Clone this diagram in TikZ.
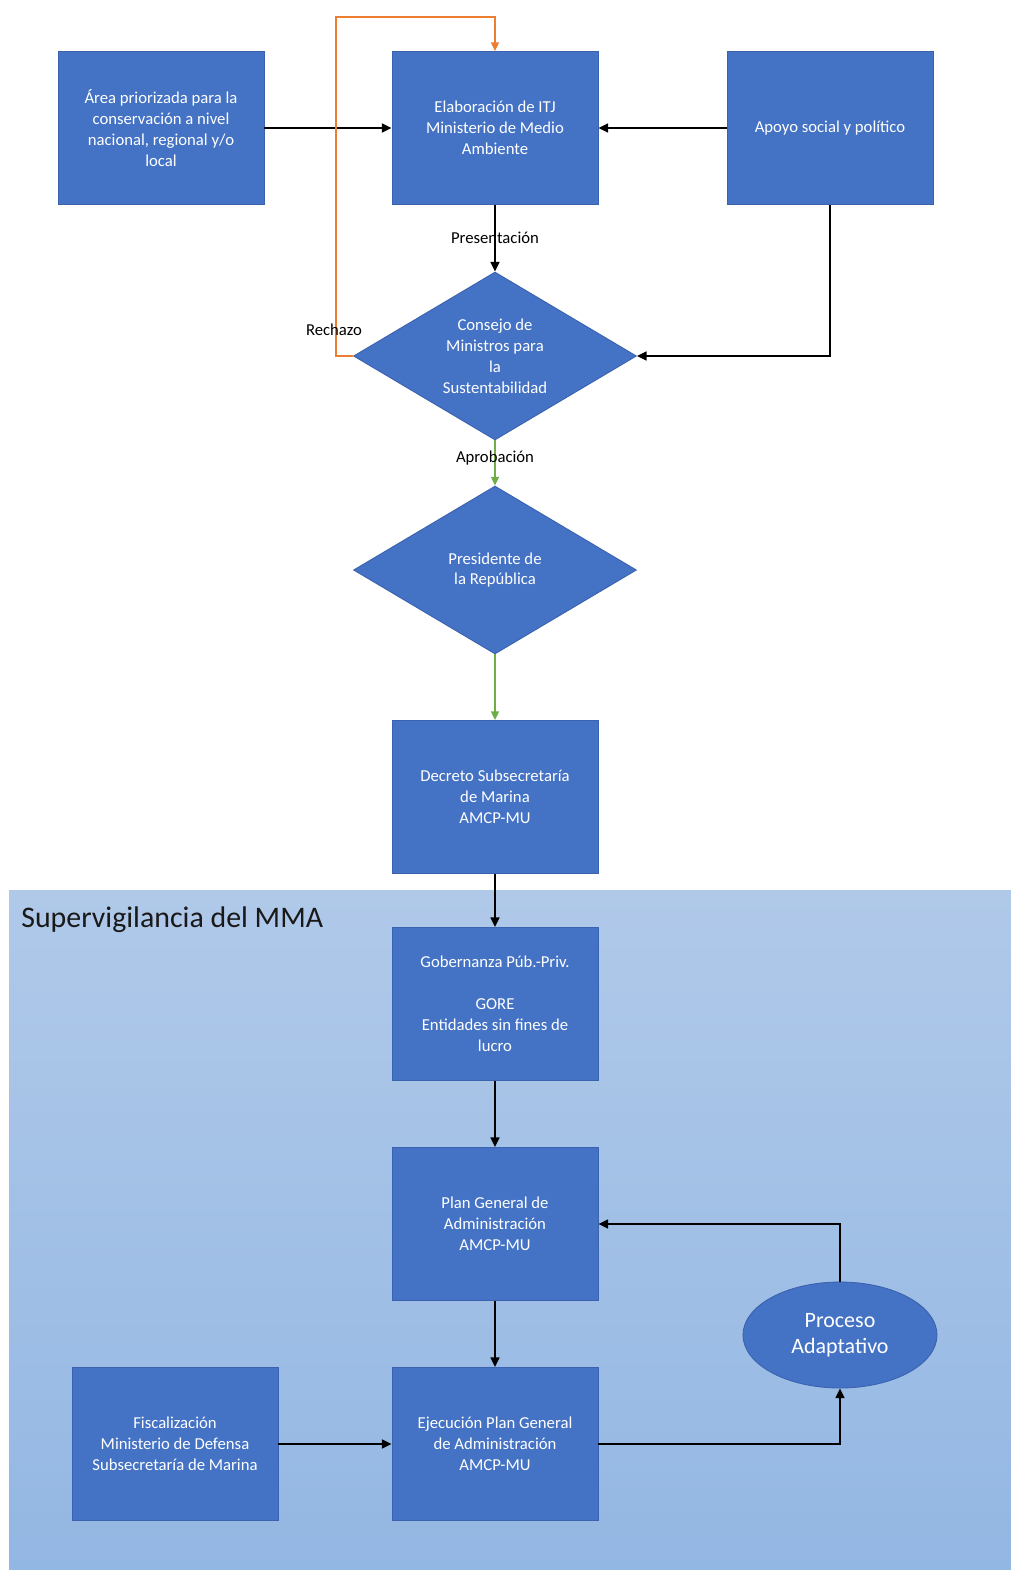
\documentclass[tikz,border=0pt]{standalone}
\usepackage{fontspec}
\setmainfont{Carlito}
\usetikzlibrary{shapes.geometric,arrows.meta}
\definecolor{boxblue}{HTML}{4472C4}
\definecolor{boxedge}{HTML}{3A62AE}
\definecolor{bgtop}{HTML}{B0C9E9}
\definecolor{bgbot}{HTML}{93B7E3}
\definecolor{orangeline}{HTML}{ED7D31}
\definecolor{greenline}{HTML}{70AD47}
\begin{document}
\begin{tikzpicture}[x=0.02cm,y=-0.02cm,
  box/.style={rectangle,fill=boxblue,draw=boxedge,line width=0.5pt,minimum width=4.12cm,minimum height=3.06cm,
    text=white,align=center,inner sep=2pt,font=\fontsize{9.5}{11.9}\selectfont},
  dia/.style={diamond,fill=boxblue,draw=boxedge,line width=0.5pt,minimum width=5.66cm,minimum height=3.36cm,
    aspect=1.68,inner sep=0pt,text=white,align=center,font=\fontsize{9.5}{11.9}\selectfont},
  ell/.style={ellipse,fill=boxblue,draw=boxedge,line width=0.5pt,minimum width=3.88cm,minimum height=2.12cm,
    inner sep=0pt,text=white,align=center,font=\fontsize{12.5}{15}\selectfont},
  arr/.style={draw=black,line width=1.1pt,-{Triangle[length=5.5pt,width=5pt]}},
  oarr/.style={draw=orangeline,line width=0.9pt,-{Triangle[length=5pt,width=4.5pt]}},
  garr/.style={draw=greenline,line width=0.9pt,-{Triangle[length=5pt,width=4.5pt]}},
  lbl/.style={text=black,font=\fontsize{9.5}{11.9}\selectfont,inner sep=0pt}
]
\useasboundingbox (0,0) rectangle (1011,1570);
\fill[white] (0,0) rectangle (1011,1570);
\shade[top color=bgtop,bottom color=bgbot] (9,890) rectangle (1011,1570);
\node[anchor=west,text=black!90,font=\fontsize{17}{20}\selectfont,inner sep=0pt] (sup) at (21,920) {Supervigilancia del MMA};

\node[box] (area) at (161,128) {Área priorizada para la\\conservación a nivel\\nacional, regional y/o\\local};
\node[box] (itj) at (495,128) {Elaboración de ITJ\\Ministerio de Medio\\Ambiente};
\node[box] (apoyo) at (830,128) {Apoyo social y político};
\node[dia] (consejo) at (495,356) {Consejo de\\Ministros para\\la\\Sustentabilidad};
\node[dia] (pres) at (495,570) {Presidente de\\la República};
\node[box] (decreto) at (495,797) {Decreto Subsecretaría\\de Marina\\AMCP-MU};
\node[box] (gob) at (495,1004) {Gobernanza Púb.-Priv.\\[11.9pt]GORE\\Entidades sin fines de\\lucro};
\node[box] (plan) at (495,1224) {Plan General de\\Administración\\AMCP-MU};
\node[box] (ejec) at (495,1444) {Ejecución Plan General\\de Administración\\AMCP-MU};
\node[box] (fisc) at (175,1444) {Fiscalización\\Ministerio de Defensa\\Subsecretaría de Marina};
\node[ell] (proc) at (840,1335) {Proceso\\Adaptativo};

\coordinate (rtop) at (336,17);
\draw[arr] (area.east) -- (itj.west);
\draw[arr] (apoyo.west) -- (itj.east);
\draw[arr] (itj.south) -- node[lbl] (pre) {Presentación} (consejo.north);
\draw[arr] (apoyo.south) |- (consejo.east);
\draw[oarr] (consejo.west) -| (rtop) -| (itj.north);
\node[lbl] (rech) at (334,330) {Rechazo};
\draw[garr] (consejo.south) -- node[lbl,pos=0.4] (apr) {Aprobación} (pres.north);
\draw[garr] (pres.south) -- (decreto.north);
\draw[arr] (decreto.south) -- (gob.north);
\draw[arr] (gob.south) -- (plan.north);
\draw[arr] (plan.south) -- (ejec.north);
\draw[arr] (fisc.east) -- (ejec.west);
\draw[arr] (ejec.east) -| (proc.south);
\draw[arr] (proc.north) |- (plan.east);
\end{tikzpicture}
\end{document}
